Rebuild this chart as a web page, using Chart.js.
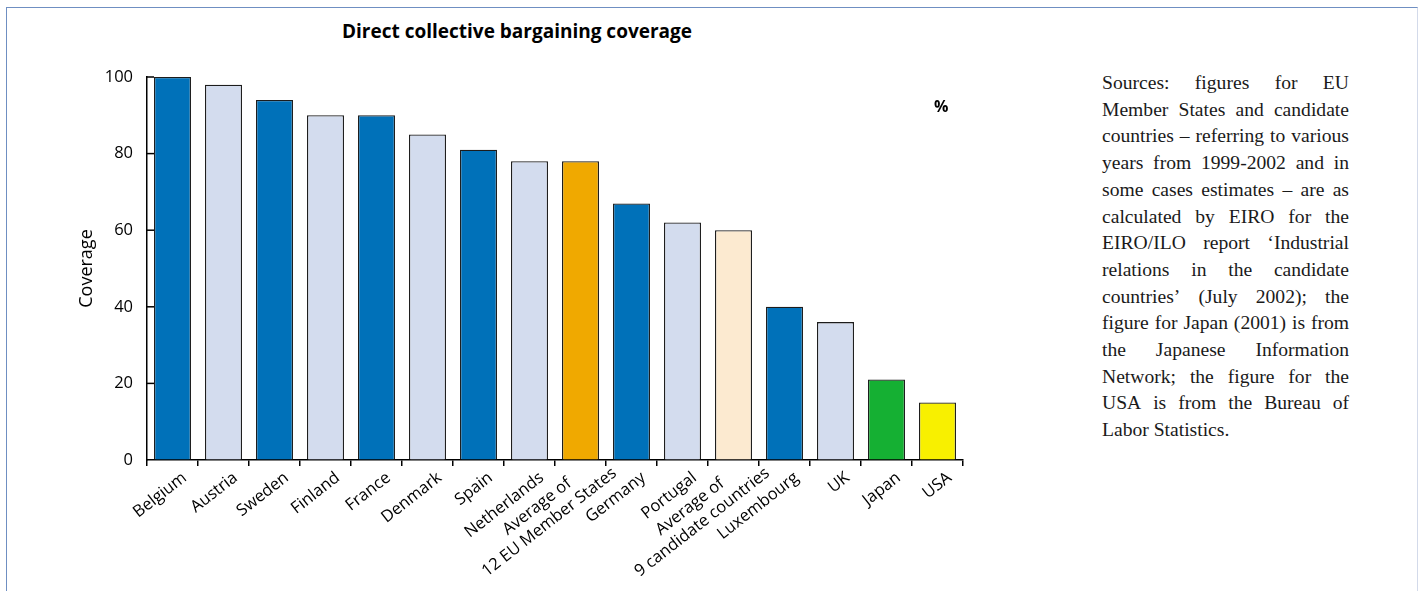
<!DOCTYPE html>
<html>
<head>
<meta charset="utf-8">
<title>Direct collective bargaining coverage</title>
<script src="https://cdn.jsdelivr.net/npm/chart.js@4.4.0/dist/chart.umd.min.js"></script>
<style>
  html, body { margin: 0; padding: 0; background: #fff; }
  body { width: 1419px; height: 591px; position: relative; overflow: hidden; }
  #frame {
    position: absolute; left: 6px; top: 7px; width: 1410px; height: 620px;
    border-top: 1.5px solid #6f8fc2; border-left: 1.5px solid #6f8fc2; border-right: 1px solid #d3daea;
  }
  #title {
    position: absolute; left: 217px; top: 18px; width: 600px; text-align: center;
    font: bold 19px 'Open Sans', sans-serif; color: #000; line-height: 26px;
  }
  #wrap { position: absolute; left: 0; top: 0; width: 1030px; height: 591px; }
  #pct { position: absolute; left: 934px; top: 95px; font: bold 16px 'Open Sans', sans-serif; color: #000; }
  #sources {
    position: absolute; left: 1102px; top: 70px; width: 247px;
    font-family: 'Liberation Serif', serif; font-size: 19.6px; line-height: 26.7px; color: #1a1a1a;
  }
  #sources .ln { display: flex; justify-content: space-between; white-space: nowrap; }
  #sources .ln.last { justify-content: flex-start; }
</style>
</head>
<body>
<div id="frame"></div>
<div id="title">Direct collective bargaining coverage</div>
<div id="wrap"><canvas id="chart" width="1030" height="591"></canvas></div>
<div id="pct">%</div>
<div id="sources"></div>
<script>
const categories = [
  'Belgium', 'Austria', 'Sweden', 'Finland', 'France', 'Denmark', 'Spain', 'Netherlands',
  ['Average of', '12 EU Member States'], 'Germany', 'Portugal',
  ['Average of', '9 candidate countries'], 'Luxembourg', 'UK', 'Japan', 'USA'
];
const coverage = [100, 98, 94, 90, 90, 85, 81, 78, 78, 67, 62, 60, 40, 36, 21, 15];
const yTicks = [0, 20, 40, 60, 80, 100];

const dark = '#0071b9', light = '#d3dcee';
const barColors = [
  dark, light, dark, light, dark, light, dark, light,
  '#f0a900', dark, light, '#fcead0', dark, light, '#15b033', '#f8f000'
];

const sourceLines = [
  'Sources: figures for EU',
  'Member States and candidate',
  'countries \u2013 referring to various',
  'years from 1999-2002 and in',
  'some cases estimates \u2013 are as',
  'calculated by EIRO for the',
  'EIRO/ILO report \u2018Industrial',
  'relations in the candidate',
  'countries\u2019 (July 2002); the',
  'figure for Japan (2001) is from',
  'the Japanese Information',
  'Network; the figure for the',
  'USA is from the Bureau of',
  'Labor Statistics.'
];

// justified note on the right, one block per printed line
const src = document.getElementById('sources');
sourceLines.forEach((line, i) => {
  const div = document.createElement('div');
  const last = i === sourceLines.length - 1;
  div.className = 'ln' + (last ? ' last' : '');
  if (last) {
    div.textContent = line;
  } else {
    line.split(' ').forEach(w => {
      const s = document.createElement('span');
      s.textContent = w;
      div.appendChild(s);
    });
  }
  src.appendChild(div);
});

// short tick marks on the inside of the y axis
const innerTicks = {
  id: 'innerTicks',
  afterDatasetsDraw(chart) {
    const { ctx, chartArea, scales: { y } } = chart;
    ctx.save();
    ctx.strokeStyle = '#000';
    ctx.lineWidth = 1.5;
    yTicks.forEach(v => {
      if (v === 0) return;
      const py = y.getPixelForValue(v);
      ctx.beginPath();
      ctx.moveTo(chartArea.left, py);
      ctx.lineTo(chartArea.left + 7, py);
      ctx.stroke();
    });
    ctx.restore();
  }
};

// rotated category labels; two-line labels are centred line by line
const LABEL_ANGLE = 38 * Math.PI / 180;
const LABEL_SIZE = 16.5;
const slantedLabels = {
  id: 'slantedLabels',
  afterDraw(chart) {
    const { ctx, scales: { x } } = chart;
    const lh = LABEL_SIZE * 1.2;
    ctx.save();
    ctx.font = LABEL_SIZE + 'px "Open Sans", sans-serif';
    ctx.fillStyle = '#000';
    ctx.textBaseline = 'middle';
    categories.forEach((label, i) => {
      const px = x.getPixelForTick(i);
      const lines = Array.isArray(label) ? label : [label];
      ctx.save();
      ctx.translate(px + (lh / 2) * Math.sin(LABEL_ANGLE), x.top + 8);
      ctx.rotate(-LABEL_ANGLE);
      if (lines.length === 1) {
        ctx.textAlign = 'right';
        ctx.fillText(lines[0], 0, lh / 2);
      } else {
        const maxW = Math.max(...lines.map(l => ctx.measureText(l).width));
        const shift = 20;
        ctx.textAlign = 'center';
        lines.forEach((l, k) => {
          ctx.fillText(l, shift - maxW / 2, lh / 2 + (k - (lines.length - 1) / 2) * lh);
        });
      }
      ctx.restore();
    });
    ctx.restore();
  }
};

new Chart(document.getElementById('chart'), {
  type: 'bar',
  data: {
    labels: categories,
    datasets: [{
      data: coverage,
      backgroundColor: barColors,
      borderColor: '#1c1c1c',
      borderWidth: 1.3,
      barPercentage: 0.725,
      categoryPercentage: 1
    }]
  },
  options: {
    responsive: false,
    animation: false,
    devicePixelRatio: 1,
    layout: { padding: { left: 0, right: 67, top: 77, bottom: 0 } },
    plugins: {
      legend: { display: false },
      tooltip: { enabled: false },
      title: { display: false }
    },
    scales: {
      x: {
        grid: { display: true, drawOnChartArea: false, drawTicks: true, tickLength: 6, color: '#000', lineWidth: 1.5, offset: true },
        border: { display: true, color: '#000', width: 1.5 },
        ticks: { display: false, autoSkip: false },
        afterFit: s => { s.height = 131; }
      },
      y: {
        min: 0, max: 100,
        grid: { drawOnChartArea: false, drawTicks: false },
        border: { display: true, color: '#000', width: 1.5 },
        ticks: { stepSize: 20, padding: 14, color: '#000', font: { family: 'Open Sans', size: 16.5 } },
        title: {
          display: true, text: 'Coverage', color: '#000',
          font: { family: 'Open Sans', size: 18 },
          padding: { top: 76, bottom: 0 }
        },
        afterFit: s => { s.width = 147; }
      }
    }
  },
  plugins: [innerTicks, slantedLabels]
});
</script>
</body>
</html>
